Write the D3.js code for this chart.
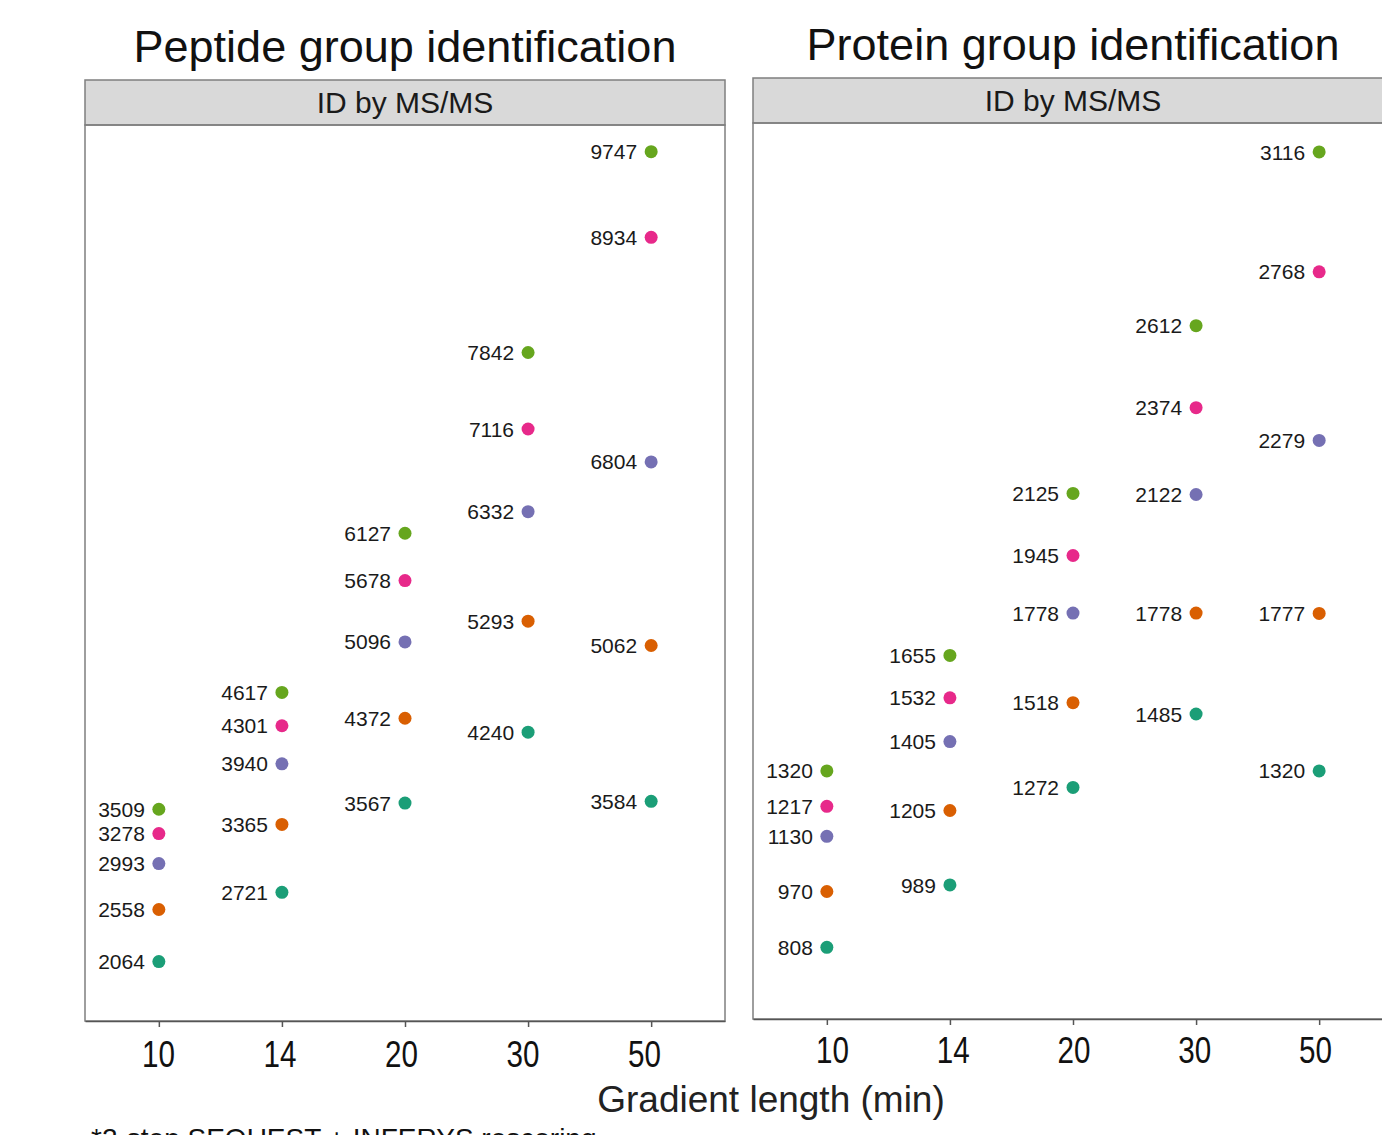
<!DOCTYPE html>
<html>
<head>
<meta charset="utf-8">
<script src="https://cdn.jsdelivr.net/npm/d3@7"></script>
<style>
  html, body { margin: 0; padding: 0; background: #fff; }
  svg { display: block; font-family: "Liberation Sans", Arial, sans-serif; }
</style>
</head>
<body>
<svg id="chart" width="1382" height="1135"></svg>
<script>
// Gradient lengths (min) shown on the x axis
const gradients = ["10", "14", "20", "30", "50"];

// Search workflows, bottom to top
const series = ["wf1", "wf2", "wf3", "wf4", "wf5"];
const seriesColors = ["#1B9E77", "#D95F02", "#7570B3", "#E7298A", "#66A61E"];

// Peptide group identifications per gradient (order follows `gradients`)
const peptideWf1 = [2064, 2721, 3567, 4240, 3584];
const peptideWf2 = [2558, 3365, 4372, 5293, 5062];
const peptideWf3 = [2993, 3940, 5096, 6332, 6804];
const peptideWf4 = [3278, 4301, 5678, 7116, 8934];
const peptideWf5 = [3509, 4617, 6127, 7842, 9747];

// Protein group identifications per gradient
const proteinWf1 = [808, 989, 1272, 1485, 1320];
const proteinWf2 = [970, 1205, 1518, 1778, 1777];
const proteinWf3 = [1130, 1405, 1778, 2122, 2279];
const proteinWf4 = [1217, 1532, 1945, 2374, 2768];
const proteinWf5 = [1320, 1655, 2125, 2612, 3116];

const panelTitles = ["Peptide group identification", "Protein group identification"];
const stripLabel = "ID by MS/MS";
const xTitle = "Gradient length (min)";
const footnote = "*2-step SEQUEST + INFERYS rescoring";

const svg = d3.select("#chart");

function rows(lists) {
  const out = [];
  lists.forEach((vals, si) => {
    vals.forEach((v, gi) => out.push({ series: series[si], g: gradients[gi], v }));
  });
  return out;
}

const panels = [
  {
    title: panelTitles[0],
    data: rows([peptideWf1, peptideWf2, peptideWf3, peptideWf4, peptideWf5]),
    yDomain: [1500, 10000],
    x0: 85, x1: 725, stripTop: 80, top: 125, bottom: 1021,
    titleY: 62, labelRange: [158, 644], labelY: 1067
  },
  {
    title: panelTitles[1],
    data: rows([proteinWf1, proteinWf2, proteinWf3, proteinWf4, proteinWf5]),
    yDomain: [600, 3200],
    x0: 753, x1: 1393, stripTop: 78, top: 123, bottom: 1019,
    titleY: 60, labelRange: [832, 1315], labelY: 1063
  }
];

const color = d3.scaleOrdinal().domain(series).range(seriesColors);

panels.forEach(p => {
  const g = svg.append("g");
  const x = d3.scalePoint().domain(gradients).range([p.x0, p.x1]).padding(0.6);
  const y = d3.scaleLinear().domain(p.yDomain).range([p.bottom, p.top]);
  const cx = (p.x0 + p.x1) / 2;

  // panel title
  g.append("text")
    .attr("x", cx).attr("y", p.titleY)
    .attr("text-anchor", "middle")
    .attr("font-size", 45).attr("fill", "#111")
    .text(p.title);

  // facet strip
  g.append("rect")
    .attr("x", p.x0).attr("y", p.stripTop)
    .attr("width", p.x1 - p.x0).attr("height", p.top - p.stripTop)
    .attr("fill", "#d9d9d9").attr("stroke", "#7f7f7f").attr("stroke-width", 1.5);
  g.append("text")
    .attr("x", cx).attr("y", (p.stripTop + p.top) / 2)
    .attr("dy", "0.36em")
    .attr("text-anchor", "middle")
    .attr("font-size", 30).attr("fill", "#1a1a1a")
    .text(stripLabel);

  // plot area border
  g.append("rect")
    .attr("x", p.x0).attr("y", p.top)
    .attr("width", p.x1 - p.x0).attr("height", p.bottom - p.top)
    .attr("fill", "none").attr("stroke", "#7f7f7f").attr("stroke-width", 1.5);

  // tick marks
  const ax = g.append("g")
    .attr("transform", `translate(0,${p.bottom})`)
    .call(d3.axisBottom(x).tickSize(6).tickSizeOuter(0).tickFormat(""));
  ax.select(".domain").attr("stroke", "#555").attr("stroke-width", 1.5);
  ax.selectAll(".tick line").attr("stroke", "#555").attr("stroke-width", 1.5);

  // tick labels (condensed face)
  const xl = d3.scalePoint().domain(gradients).range(p.labelRange);
  const lab = g.append("g")
    .attr("transform", `translate(0,${p.labelY})`)
    .call(d3.axisBottom(xl).tickSize(0).tickPadding(0));
  lab.select(".domain").remove();
  lab.selectAll(".tick text")
    .attr("dy", null).attr("y", 0)
    .attr("transform", "scale(0.8,1)")
    .attr("font-family", "'Liberation Sans', Arial, sans-serif")
    .attr("font-size", 37).attr("fill", "#111");

  // points
  g.selectAll("circle.pt").data(p.data).join("circle")
    .attr("class", "pt")
    .attr("cx", d => x(d.g)).attr("cy", d => y(d.v))
    .attr("r", 6.5)
    .attr("fill", d => color(d.series));

  // value labels
  g.selectAll("text.val").data(p.data).join("text")
    .attr("class", "val")
    .attr("x", d => x(d.g) - 14).attr("y", d => y(d.v))
    .attr("dy", "0.36em")
    .attr("text-anchor", "end")
    .attr("font-size", 21).attr("fill", "#1a1a1a")
    .text(d => d.v);
});

// shared x axis title
svg.append("text")
  .attr("x", 771).attr("y", 1112)
  .attr("text-anchor", "middle")
  .attr("font-size", 37).attr("fill", "#222")
  .text(xTitle);

// footnote
svg.append("text")
  .attr("x", 91).attr("y", 1148)
  .attr("font-size", 28).attr("fill", "#111")
  .text(footnote);
</script>
</body>
</html>
